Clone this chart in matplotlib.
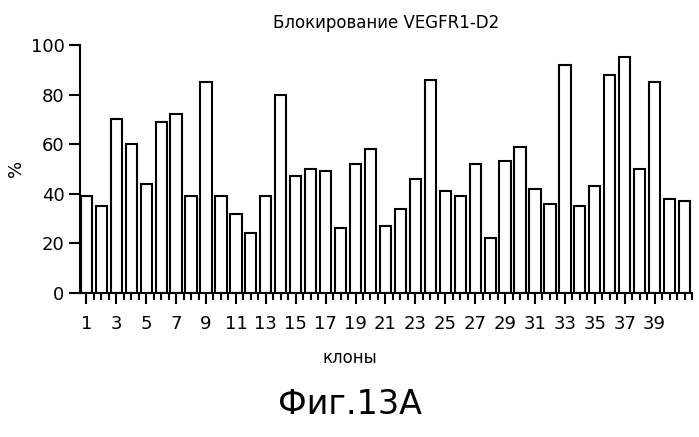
import matplotlib
matplotlib.use("Agg")
import matplotlib.pyplot as plt
from matplotlib.ticker import MultipleLocator

clones = list(range(1, 42))
values = [39, 35, 70, 60, 44, 69, 72, 39, 85, 39, 32, 24, 39, 80, 47, 50, 49, 26, 52, 58,
          27, 34, 46, 86, 41, 39, 52, 22, 53, 59, 42, 36, 92, 35, 43, 88, 95, 50, 85, 38, 37]
tick_labels = [str(i) for i in range(1, 40, 2)]

fig = plt.figure(figsize=(6.99, 4.37), dpi=100)
ax = fig.add_axes([0.115, 0.33, 0.875, 0.567])
ax.bar(clones, values, width=0.75, color="white", edgecolor="black", linewidth=1.5)
ax.set_xlim(0.6, 41.5)
ax.set_ylim(0, 100)
ax.set_yticks([0, 20, 40, 60, 80, 100])
ax.set_xticks(list(range(1, 40, 2)))
ax.set_xticklabels(tick_labels, fontsize=13)
ax.xaxis.set_minor_locator(MultipleLocator(0.5))
ax.tick_params(axis="x", which="major", length=8, width=1.5, pad=8)
ax.tick_params(axis="x", which="minor", length=5, width=1.5)
ax.tick_params(axis="y", length=8, width=1.5, labelsize=13)
for s in ["top", "right"]:
    ax.spines[s].set_visible(False)
ax.spines["left"].set_linewidth(1.5)
ax.spines["bottom"].set_linewidth(1.5)
ax.set_ylabel("%", fontsize=13)
ax.set_title("Блокирование VEGFR1-D2", fontsize=12, pad=12)
fig.text(0.5, 0.18, "клоны", ha="center", va="center", fontsize=12)
fig.text(0.5, 0.075, "Фиг.13A", ha="center", va="center", fontsize=24)
fig.savefig("out.png", dpi=100)
